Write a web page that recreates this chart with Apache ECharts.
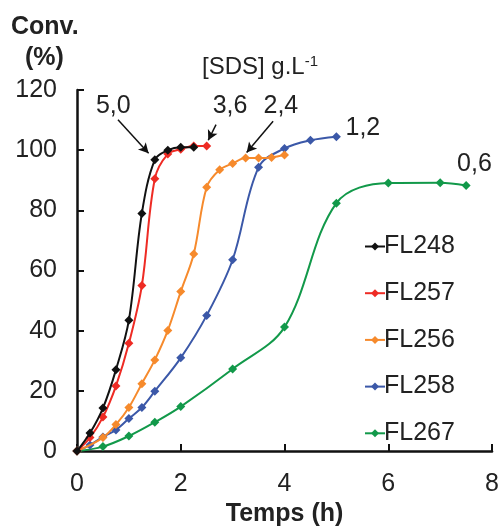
<!DOCTYPE html>
<html><head><meta charset="utf-8">
<script src="https://cdn.jsdelivr.net/npm/echarts@6/dist/echarts.min.js"></script>
<style>html,body{margin:0;padding:0;background:#fff}#c{width:502px;height:532px}</style>
</head><body><div id="c"></div>
<script>
const names = ['FL248','FL257','FL256','FL258','FL267'];
const colors = ['#111111','#ee2b24','#f68a2c','#3b58a8','#12994a'];
const fl248 = [[0,0],[0.25,6],[0.5,14.3],[0.75,27],[1,43.5],[1.25,79],[1.5,96.8],[1.75,100],[2,101],[2.25,101]];
const fl257 = [[0,0],[0.25,4.5],[0.5,11.3],[0.75,21.6],[1,35.8],[1.25,55],[1.5,90.5],[1.75,98.7],[2,100.3],[2.25,101.4],[2.5,101.4]];
const fl256 = [[0,0],[0.5,4.5],[0.75,8.8],[1,14.5],[1.25,22.4],[1.5,30.3],[1.75,40.1],[2,53],[2.25,65.5],[2.5,87.7],[2.75,93.5],[3,95.6],[3.25,97.4],[3.5,97.4],[3.75,97.6],[4,98.4]];
const fl258 = [[0,0],[0.25,2],[0.5,4.7],[0.75,7],[1,10.8],[1.25,14.5],[1.5,19.9],[2,31],[2.5,45.1],[3,63.6],[3.5,94.3],[4,100.6],[4.5,103.3],[5,104.5]];
const fl267 = [[0,0],[0.5,1.5],[1,5],[1.5,9.6],[2,14.8],[3,27.3],[4,41.2],[5,82.4],[6,89.1],[7,89.2],[7.5,88.3]];
const seriesData = [fl248, fl257, fl256, fl258, fl267];
const xTicks = [0,2,4,6,8];
const yTicks = [0,20,40,60,80,100,120];
const sdsLabels = [['5,0',[0.7,114.5]],['3,6',[2.95,114.5]],['2,4',[3.93,114.5]],['1,2',[5.51,107.5]],['0,6',[7.66,95.4]]];
const arrows = [[[0.79,110.1],[1.38,99]],[[2.68,108.5],[2.53,103.3]],[[3.78,109.6],[3.27,99.2]]];

const FONT = 'Liberation Sans, Arial, sans-serif';
const chart = echarts.init(document.getElementById('c'), null, {renderer:'canvas'});
const series = names.map((n,i)=>({
  name:n, type:'line', data:seriesData[i], smooth:0.35, symbol:'diamond', symbolSize:9,
  z: 10 - i,
  lineStyle:{color:colors[i], width:2}, itemStyle:{color:colors[i]},
  emphasis:{disabled:true}
}));
series.push({
  type:'line', data:[], silent:true,
  markPoint:{symbol:'circle', symbolSize:0, silent:true,
    label:{show:true, color:'#222', fontSize:25, fontFamily:FONT, formatter:p=>p.name, offset:[0,0]},
    data: sdsLabels.map(s=>({name:s[0], coord:s[1]}))},
  markLine:{silent:true, symbol:['none','arrow'], symbolSize:[8,10], label:{show:false},
    lineStyle:{color:'#111', width:1.5, type:'solid'},
    data: arrows.map(a=>[{coord:a[0]},{coord:a[1]}])}
});
chart.setOption({
  animation:false,
  textStyle:{fontFamily:FONT},
  grid:{left:77, right:9, top:90, bottom:75, containLabel:false},
  xAxis:{type:'value', min:0, max:8, interval:2,
    name:'Temps (h)', nameLocation:'middle', nameGap:47,
    nameTextStyle:{fontSize:25, fontWeight:'bold', color:'#222', fontFamily:FONT},
    axisLine:{lineStyle:{color:'#111', width:2.5}},
    axisTick:{inside:true, length:7, lineStyle:{color:'#111', width:2}},
    axisLabel:{fontSize:25, color:'#222', margin:21, fontFamily:FONT, formatter:v=>xTicks.includes(v)?String(v):''},
    splitLine:{show:false}},
  yAxis:{type:'value', min:0, max:120, interval:20,
    axisLine:{show:true, lineStyle:{color:'#111', width:2.5}},
    axisTick:{show:true, inside:true, length:7, lineStyle:{color:'#111', width:2}},
    axisLabel:{fontSize:25, color:'#222', margin:20, fontFamily:FONT, formatter:v=>yTicks.includes(v)?String(v):''},
    splitLine:{show:false}},
  legend:{orient:'vertical', left:359, top:229, itemGap:21.7, itemWidth:20, itemHeight:10,
    textStyle:{fontSize:25, color:'#222', fontFamily:FONT, padding:[0,0,0,-6]},
    data:names},
  title:[
    {text:'Conv.', left:6, top:10, textStyle:{fontSize:25, fontWeight:'bold', color:'#222', fontFamily:FONT}},
    {text:'(%)', left:20, top:41, textStyle:{fontSize:25, fontWeight:'bold', color:'#222', fontFamily:FONT}},
    {text:'{a|[SDS] g.L}{b|-1}', left:197, top:49, textStyle:{fontWeight:'normal', rich:{
      a:{fontSize:24, color:'#222', fontWeight:'normal', fontFamily:FONT},
      b:{fontSize:15, color:'#222', fontWeight:'normal', fontFamily:FONT, verticalAlign:'top', padding:[0,0,12,0]}}}}
  ],
  series
});
</script></body></html>
